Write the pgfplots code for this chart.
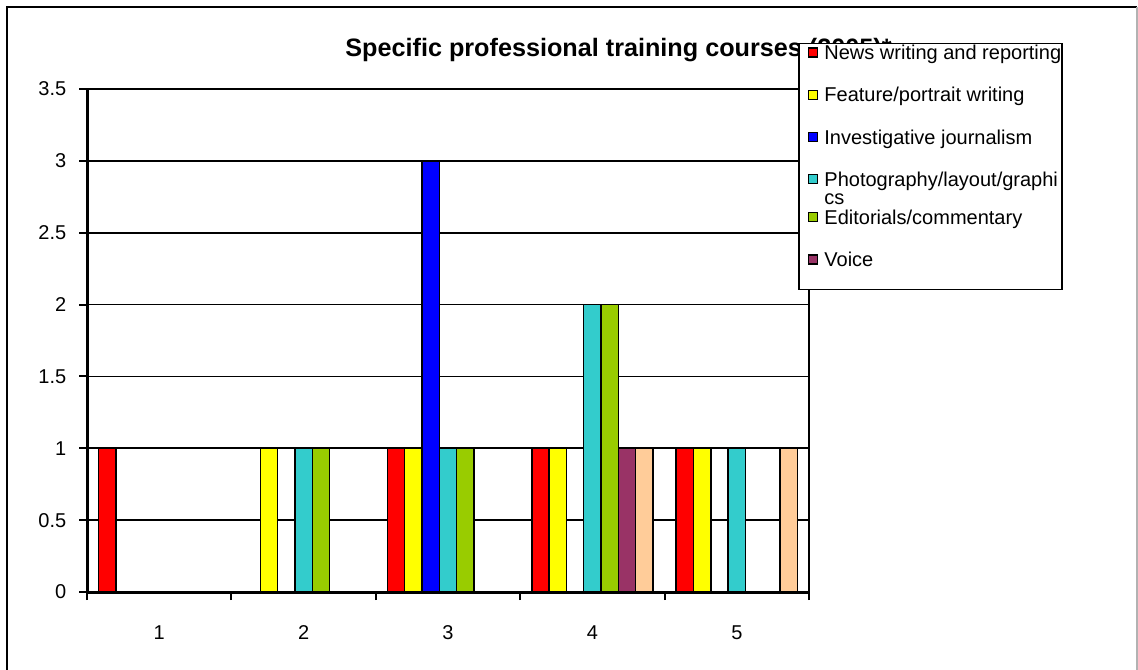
\documentclass[border=0pt]{standalone}
\usepackage{fontspec}
\setmainfont{Liberation Sans}
\usepackage{pgfplots}
\pgfplotsset{compat=1.18}
\definecolor{cRed}{HTML}{FF0000}
\definecolor{cYellow}{HTML}{FFFF00}
\definecolor{cBlue}{HTML}{0000FF}
\definecolor{cCyan}{HTML}{33CCCC}
\definecolor{cGreen}{HTML}{99CC00}
\definecolor{cPurple}{HTML}{993366}
\definecolor{cPeach}{HTML}{FFCC99}
\pgfplotsset{/pgfplots/ybar legend/.style={/pgfplots/legend image code/.code={%
  \path (0pt,0pt);
  \draw[##1,draw=black,line width=0.7pt] (4pt,1.3pt) rectangle (8.5pt,5.8pt);
  \path (11.5pt,0pt);}}}
\begin{document}
\begin{tikzpicture}
\useasboundingbox (0,0) rectangle (569pt,334.5pt);
\draw[line width=0.75pt, black] (3.5pt,-5pt) -- (3.5pt,331pt) -- (568.5pt,331pt);
\draw[line width=0.75pt, gray!60] (568.5pt,331pt) -- (568.5pt,-5pt);
\node[anchor=base west, font=\bfseries\fontsize{12.6}{14}\selectfont, inner sep=0pt] at (172.5pt,306pt) {Specific professional training courses (2005)*};
\begin{axis}[
  at={(43.5pt,38.5pt)}, anchor=south west,
  scale only axis, width=361pt, height=251.5pt,
  xmin=0.5, xmax=5.5, ymin=0, ymax=3.5,
  ybar, bar width=0.12,
  axis lines=left, axis line style={-, line width=1.5pt, black},
  xtick={1,2,3,4,5}, minor xtick={0.5,1.5,2.5,3.5,4.5,5.5},
  ytick={0,0.5,1,1.5,2,2.5,3,3.5},
  ymajorgrids, major grid style={black, line width=0.8pt},
  extra x ticks={5.5}, extra x tick labels={},
  extra x tick style={grid=major, major grid style={black, line width=0.75pt}},
  tick align=outside,
  major tick length=4pt, minor tick length=4pt,
  major x tick style={draw=none},
  minor x tick style={black, line width=1pt},
  major y tick style={black, line width=1pt},
  ticklabel style={font=\fontsize{10}{12}\selectfont},
  /pgf/number format/assume math mode=true,
  yticklabel style={inner sep=0pt, xshift=-6.2pt, /pgf/number format/fixed},
  xticklabel style={inner sep=0pt, yshift=-12.5pt},
  legend style={at={(0.985,1.0915)}, anchor=north west, draw=black, line width=0.75pt,
    fill=white, font=\fontsize{10}{10}\selectfont, inner xsep=0.5pt, inner ysep=1pt,
    row sep=11.6pt, nodes={inner sep=0pt, text height=7pt, text depth=2.5pt},
    cells={anchor=base west}},
]
\addplot[fill=cRed, draw=black, line width=0.75pt, bar shift=-0.36] coordinates {(1,1) (3,1) (4,1) (5,1)};
\addlegendentry{News writing and reporting}
\addplot[fill=cYellow, draw=black, line width=0.75pt, bar shift=-0.24] coordinates {(2,1) (3,1) (4,1) (5,1)};
\addlegendentry{Feature/portrait writing}
\addplot[fill=cBlue, draw=black, line width=0.75pt, bar shift=-0.12] coordinates {(3,3)};
\addlegendentry{Investigative journalism}
\addplot[fill=cCyan, draw=black, line width=0.75pt, bar shift=0] coordinates {(2,1) (3,1) (4,2) (5,1)};
\addlegendentry[text depth=0.4pt]{{\begin{tabular}[t]{@{}l@{}}Photography/layout/graphi\\[-1pt]cs\end{tabular}}}
\addplot[fill=cGreen, draw=black, line width=0.75pt, bar shift=0.12] coordinates {(2,1) (3,1) (4,2)};
\addlegendentry{Editorials/commentary}
\addplot[fill=cPurple, draw=black, line width=0.75pt, bar shift=0.24] coordinates {(4,1)};
\addlegendentry[text depth=10.5pt]{Voice}
\addplot[fill=cPeach, draw=black, line width=0.75pt, bar shift=0.36, forget plot] coordinates {(4,1) (5,1)};
\end{axis}
\end{tikzpicture}
\end{document}
